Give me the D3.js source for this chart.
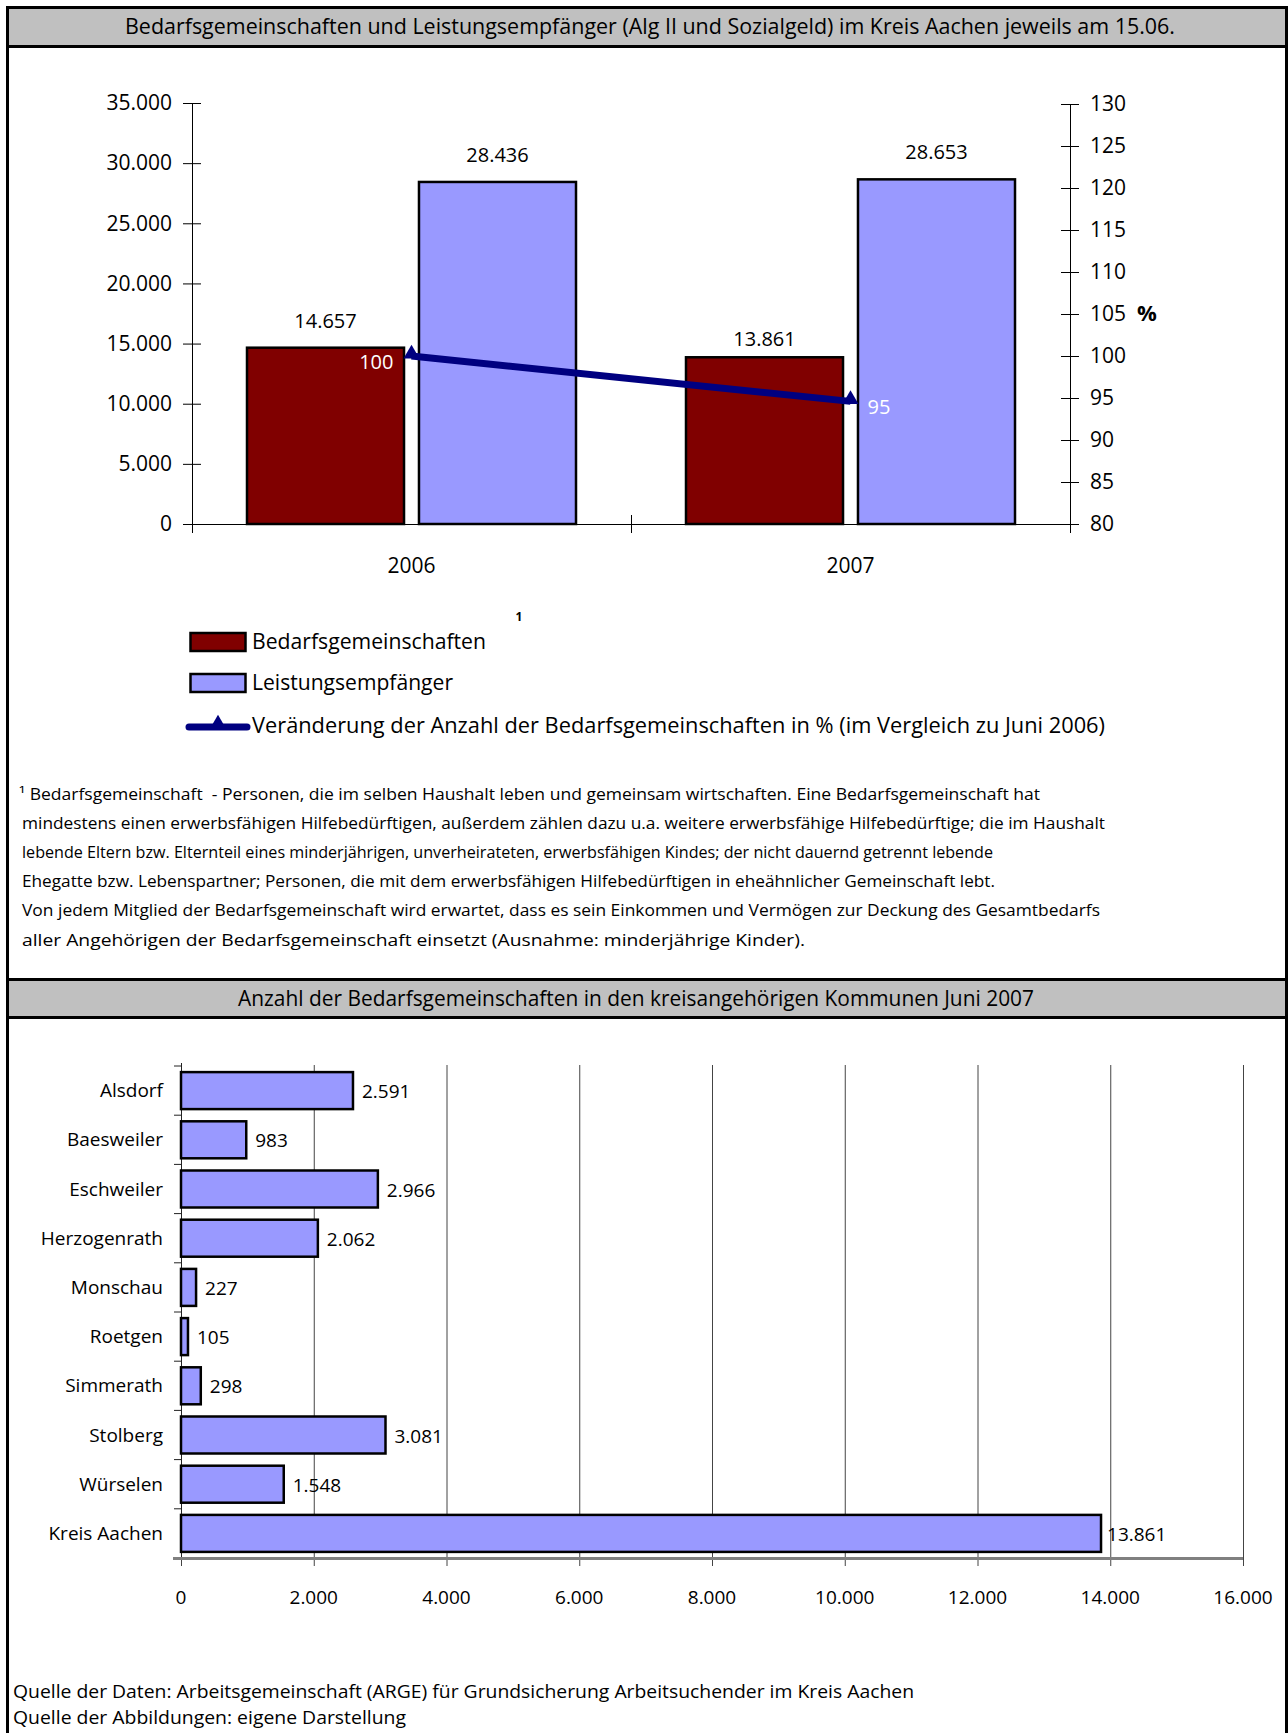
<!DOCTYPE html>
<html><head><meta charset="utf-8">
<script src="https://cdn.jsdelivr.net/npm/d3@7"></script>
<style>
body{margin:0;background:#fff}
svg{display:block}
text{font-family:"Open Sans",sans-serif;fill:#000;white-space:pre}
</style>
</head><body>
<svg id="c" width="1288" height="1733"></svg>
<script>
// ---------- data ----------
const title1 = "Bedarfsgemeinschaften und Leistungsempfänger (Alg II und Sozialgeld) im Kreis Aachen jeweils am 15.06.";
const title2 = "Anzahl der Bedarfsgemeinschaften in den kreisangehörigen Kommunen Juni 2007";
const years = ["2006", "2007"];
const seriesNames = ["Bedarfsgemeinschaften", "Leistungsempfänger"];
const bedarfsgemeinschaften = [14657, 13861];
const leistungsempfaenger = [28436, 28653];
const veraenderungProzent = [100, 94.6];
const veraenderungLabels = ["100", "95"];
const leftTicks = [0, 5000, 10000, 15000, 20000, 25000, 30000, 35000];
const rightTicks = [80, 85, 90, 95, 100, 105, 110, 115, 120, 125, 130];
const legendLabels = ["Bedarfsgemeinschaften", "Leistungsempfänger", "Veränderung der Anzahl der Bedarfsgemeinschaften in % (im Vergleich zu Juni 2006)"];
const footnoteLines = [
  "¹ Bedarfsgemeinschaft  - Personen, die im selben Haushalt leben und gemeinsam wirtschaften. Eine Bedarfsgemeinschaft hat",
  "mindestens einen erwerbsfähigen Hilfebedürftigen, außerdem zählen dazu u.a. weitere erwerbsfähige Hilfebedürftige; die im Haushalt",
  "lebende Eltern bzw. Elternteil eines minderjährigen, unverheirateten, erwerbsfähigen Kindes; der nicht dauernd getrennt lebende",
  "Ehegatte bzw. Lebenspartner; Personen, die mit dem erwerbsfähigen Hilfebedürftigen in eheähnlicher Gemeinschaft lebt.",
  "Von jedem Mitglied der Bedarfsgemeinschaft wird erwartet, dass es sein Einkommen und Vermögen zur Deckung des Gesamtbedarfs",
  "aller Angehörigen der Bedarfsgemeinschaft einsetzt (Ausnahme: minderjährige Kinder)."
];
const kommunen = ["Alsdorf", "Baesweiler", "Eschweiler", "Herzogenrath", "Monschau", "Roetgen", "Simmerath", "Stolberg", "Würselen", "Kreis Aachen"];
const kommunenWerte = [2591, 983, 2966, 2062, 227, 105, 298, 3081, 1548, 13861];
const xTicks2 = [0, 2000, 4000, 6000, 8000, 10000, 12000, 14000, 16000];
const sourceLines = [
  "Quelle der Daten: Arbeitsgemeinschaft (ARGE) für Grundsicherung Arbeitsuchender im Kreis Aachen",
  "Quelle der Abbildungen: eigene Darstellung"
];

// ---------- setup ----------
const de = d3.formatLocale({decimal: ",", thousands: ".", grouping: [3], currency: ["", "€"]});
const fmt = de.format(",");
const svg = d3.select("#c");
const RED = "#800000", BLUE = "#9999ff", NAVY = "#000080", GRAY = "#c0c0c0";

function fitText(sel, w) { sel.attr("textLength", w).attr("lengthAdjust", "spacingAndGlyphs"); return sel; }

// frame and title bars
svg.append("rect").attr("x", 9).attr("y", 9).attr("width", 1277).attr("height", 36).attr("fill", GRAY);
svg.append("rect").attr("x", 9).attr("y", 981).attr("width", 1277).attr("height", 35).attr("fill", GRAY);
[46.5, 979.5, 1017.5].forEach(y => svg.append("line").attr("x1", 7).attr("x2", 1288).attr("y1", y).attr("y2", y).attr("stroke", "#000").attr("stroke-width", 3));
svg.append("rect").attr("x", 7.5).attr("y", 7.5).attr("width", 1279).attr("height", 1760).attr("fill", "none").attr("stroke", "#000").attr("stroke-width", 3);

fitText(svg.append("text").attr("x", 650).attr("y", 27).attr("dy", "0.35em").attr("text-anchor", "middle").attr("font-size", 21).text(title1), 1050);
fitText(svg.append("text").attr("x", 636).attr("y", 999).attr("dy", "0.35em").attr("text-anchor", "middle").attr("font-size", 21).text(title2), 796);

// ---------- chart 1 ----------
const x0 = d3.scaleBand().domain(years).range([192, 1070]);
const x1 = d3.scaleBand().domain(seriesNames).range([55, 384]).paddingInner(0.087);
const yL = d3.scaleLinear().domain([0, 35000]).range([524, 103]);
const yR = d3.scaleLinear().domain([80, 130]).range([524, 104]);
const c1 = svg.append("g");

// axes
const axL = c1.append("g").attr("transform", "translate(192,0)")
  .call(d3.axisLeft(yL).tickValues(leftTicks).tickFormat(fmt).tickSize(9).tickPadding(11));
axL.select(".domain").remove();
axL.selectAll(".tick line").attr("x1", 9).attr("stroke", "#000");
axL.selectAll(".tick text").attr("font-size", 21);
c1.append("line").attr("x1", 192.5).attr("x2", 192.5).attr("y1", 103).attr("y2", 533).attr("stroke", "#000");

const axR = c1.append("g").attr("transform", "translate(1070,0)")
  .call(d3.axisRight(yR).tickValues(rightTicks).tickSize(9).tickPadding(11));
axR.select(".domain").remove();
axR.selectAll(".tick line").attr("x1", -9).attr("stroke", "#000");
axR.selectAll(".tick text").attr("font-size", 21);
c1.append("line").attr("x1", 1070.5).attr("x2", 1070.5).attr("y1", 104).attr("y2", 533).attr("stroke", "#000");

c1.append("line").attr("x1", 192).attr("x2", 1070).attr("y1", yL(0) + 0.5).attr("y2", yL(0) + 0.5).attr("stroke", "#000");
years.slice(1).forEach(yr => c1.append("line").attr("x1", x0(yr) + 0.5).attr("x2", x0(yr) + 0.5).attr("y1", yL(0) - 9).attr("y2", yL(0) + 9).attr("stroke", "#000"));
years.forEach(yr => c1.append("text").attr("x", x0(yr) + x0.bandwidth() / 2).attr("y", 566).attr("dy", "0.35em").attr("text-anchor", "middle").attr("font-size", 21).text(yr));

// bars
const barData = years.map((yr, i) => [
  {yr, s: seriesNames[0], v: bedarfsgemeinschaften[i], c: RED},
  {yr, s: seriesNames[1], v: leistungsempfaenger[i], c: BLUE}
]).flat();
c1.selectAll("rect.b").data(barData).join("rect")
  .attr("x", d => x0(d.yr) + x1(d.s)).attr("width", x1.bandwidth())
  .attr("y", d => yL(d.v)).attr("height", d => yL(0) - yL(d.v))
  .attr("fill", d => d.c).attr("stroke", "#000").attr("stroke-width", 2.5);
c1.selectAll("text.bl").data(barData).join("text")
  .attr("x", d => x0(d.yr) + x1(d.s) + x1.bandwidth() / 2)
  .attr("y", d => yL(d.v) - ((d.yr === years[1] && d.s === seriesNames[0]) ? 18 : 27))
  .attr("dy", "0.35em").attr("text-anchor", "middle").attr("font-size", 20).text(d => fmt(d.v));

// line
const lineData = years.map((yr, i) => ({x: x0(yr) + x0.bandwidth() / 2, y: yR(veraenderungProzent[i]), l: veraenderungLabels[i]}));
c1.append("path").attr("d", d3.line().x(d => d.x).y(d => d.y)(lineData))
  .attr("fill", "none").attr("stroke", NAVY).attr("stroke-width", 7);
c1.selectAll("path.m").data(lineData).join("path")
  .attr("transform", d => `translate(${d.x},${d.y - 2})`)
  .attr("d", d3.symbol(d3.symbolTriangle, 110)()).attr("fill", NAVY);
c1.selectAll("text.ll").data(lineData).join("text")
  .attr("x", (d, i) => i === 0 ? d.x - 18 : d.x + 17).attr("y", d => d.y + 6)
  .attr("dy", "0.35em").attr("text-anchor", (d, i) => i === 0 ? "end" : "start")
  .attr("font-size", 20).style("fill", "#fff").text(d => d.l);
c1.append("text").attr("x", 1137).attr("y", 313).attr("dy", "0.35em").attr("font-size", 22).attr("font-weight", "bold").text("%");

// legend
const lg = svg.append("g");
lg.append("text").attr("x", 519).attr("y", 617).attr("dy", "0.35em").attr("text-anchor", "middle").attr("font-size", 12).attr("font-weight", "bold").text("1");
lg.append("rect").attr("x", 190.5).attr("y", 633).attr("width", 55).attr("height", 18).attr("fill", RED).attr("stroke", "#000").attr("stroke-width", 2.5);
lg.append("rect").attr("x", 190.5).attr("y", 674).attr("width", 55).attr("height", 18).attr("fill", BLUE).attr("stroke", "#000").attr("stroke-width", 2.5);
lg.append("line").attr("x1", 189).attr("x2", 247).attr("y1", 727).attr("y2", 727).attr("stroke", NAVY).attr("stroke-width", 7).attr("stroke-linecap", "round");
lg.append("path").attr("transform", "translate(218,724)").attr("d", d3.symbol(d3.symbolTriangle, 110)()).attr("fill", NAVY);
const legY = [642, 683, 726], legW = [234, 201, 853];
legendLabels.forEach((t, i) => fitText(lg.append("text").attr("x", 252).attr("y", legY[i]).attr("dy", "0.35em").attr("font-size", 21).text(t), legW[i]));

// footnote
const fnY = [794, 823, 852, 881, 910, 940];
const fnX = [19, 22, 22, 22, 22, 22];
const fnW = [1021, 1083, 971, 973, 1078, 783];
footnoteLines.forEach((t, i) => fitText(svg.append("text").attr("x", fnX[i]).attr("y", fnY[i]).attr("dy", "0.35em").attr("font-size", 16.5).text(t), fnW[i]));

// ---------- chart 2 ----------
const y2 = d3.scaleBand().domain(kommunen).range([1066, 1558]).paddingInner(0.248).paddingOuter(0.124);
const x2 = d3.scaleLinear().domain([0, 16000]).range([181, 1243]);
const c2 = svg.append("g");
xTicks2.slice(1).forEach(t => c2.append("line").attr("x1", x2(t) + 0.5).attr("x2", x2(t) + 0.5).attr("y1", 1065).attr("y2", 1558).attr("stroke", "#444").attr("stroke-width", 1));
xTicks2.forEach(t => {
  c2.append("line").attr("x1", x2(t) + 0.5).attr("x2", x2(t) + 0.5).attr("y1", 1558).attr("y2", 1566).attr("stroke", "#444");
  c2.append("text").attr("x", x2(t)).attr("y", 1597).attr("dy", "0.35em").attr("text-anchor", "middle").attr("font-size", 19).text(fmt(t));
});
c2.append("line").attr("x1", 181.5).attr("x2", 181.5).attr("y1", 1063).attr("y2", 1558).attr("stroke", "#222");
const gap = (y2.step() - y2.bandwidth()) / 2;
kommunen.forEach(k => c2.append("line").attr("x1", 174).attr("x2", 181).attr("y1", y2(k) - gap).attr("y2", y2(k) - gap).attr("stroke", "#222"));
c2.append("line").attr("x1", 173).attr("x2", 1243).attr("y1", 1558.5).attr("y2", 1558.5).attr("stroke", "#808080").attr("stroke-width", 3);

const kData = kommunen.map((k, i) => ({k, v: kommunenWerte[i]}));
c2.selectAll("rect.k").data(kData).join("rect")
  .attr("x", x2(0)).attr("y", d => y2(d.k)).attr("height", y2.bandwidth())
  .attr("width", d => x2(d.v) - x2(0)).attr("fill", BLUE).attr("stroke", "#000").attr("stroke-width", 2.5);
c2.selectAll("text.kl").data(kData).join("text")
  .attr("x", 163).attr("y", d => y2(d.k) + y2.bandwidth() / 2).attr("dy", "0.35em")
  .attr("text-anchor", "end").attr("font-size", 19).text(d => d.k);
c2.selectAll("text.kv").data(kData).join("text")
  .attr("x", d => x2(d.v) + (d.v > 10000 ? 6 : 9)).attr("y", d => y2(d.k) + y2.bandwidth() / 2 + 1).attr("dy", "0.35em")
  .attr("font-size", 19).text(d => fmt(d.v));

// sources
const srcY = [1692, 1718], srcW = [901, 393];
sourceLines.forEach((t, i) => fitText(svg.append("text").attr("x", 13).attr("y", srcY[i]).attr("dy", "0.35em").attr("font-size", 18.5).text(t), srcW[i]));
</script>
</body></html>
